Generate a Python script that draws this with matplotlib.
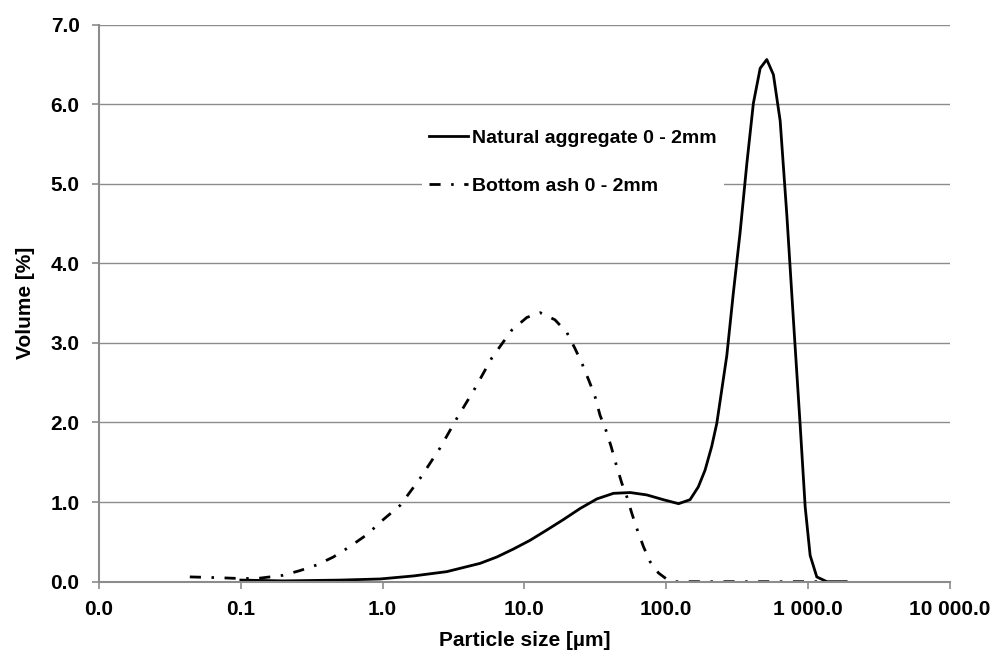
import matplotlib.pyplot as plt

plt.rcParams['font.family'] = ['Liberation Sans', 'DejaVu Sans']
plt.rcParams['font.weight'] = 'bold'

# natural aggregate 0 - 2mm (solid line)
nat_size = [0.1, 0.2, 0.5, 0.959, 1.646, 2.83, 4.86, 6.38, 8.35, 10.95, 14.4, 18.8,
            24.7, 32.4, 42.4, 55.6, 72.8, 95.4, 122, 147, 168, 187.5, 209, 227, 246,
            267, 297, 331, 370, 411, 459, 511, 569, 635, 708, 788, 879, 953, 1033,
            1151, 1355, 1854]
nat_vol = [0.02, 0.01, 0.02, 0.034, 0.072, 0.126, 0.23, 0.31, 0.41, 0.52, 0.65, 0.78,
           0.92, 1.04, 1.11, 1.12, 1.09, 1.03, 0.98, 1.03, 1.19, 1.40, 1.70, 1.99, 2.41,
           2.84, 3.63, 4.38, 5.26, 6.01, 6.45, 6.56, 6.37, 5.79, 4.60, 3.28, 1.96, 0.94,
           0.33, 0.06, 0.0, 0.0]

# bottom ash 0 - 2mm (dash-dot line)
ash_size = [0.0437, 0.07, 0.098, 0.13, 0.198, 0.262, 0.343, 0.449, 0.586, 0.773, 1.01,
            1.33, 1.84, 2.54, 3.33, 4.48, 5.88, 8.13, 10.4, 12.9, 16.4, 19.9, 22.7,
            25.6, 29.0, 31.5, 34.1, 37.4, 40.8, 44.0, 48.5, 52.6, 57.1, 61.9, 69.0,
            76.9, 88.0, 101, 112, 1250]
ash_vol = [0.06, 0.05, 0.04, 0.04, 0.08, 0.14, 0.21, 0.31, 0.44, 0.59, 0.78,
           0.96, 1.30, 1.68, 2.05, 2.43, 2.81, 3.16, 3.32, 3.38, 3.29, 3.13, 2.93,
           2.73, 2.49, 2.32, 2.09, 1.91, 1.70, 1.49, 1.24, 1.07, 0.86, 0.67, 0.44,
           0.25, 0.11, 0.03, 0.0, 0.0]

xticks = [0.01, 0.1, 1, 10, 100, 1000, 10000]
xtick_labels = ['0.0', '0.1', '1.0', '10.0', '100.0', '1 000.0', '10 000.0']
yticks = [0, 1, 2, 3, 4, 5, 6, 7]

fig = plt.figure(figsize=(9.94, 6.5), dpi=100)
ax = fig.add_axes([0.0996, 0.1051, 0.8561, 0.8572])

ax.plot(nat_size, nat_vol, color='black', lw=2, label='Natural aggregate 0 - 2mm')
ax.plot(ash_size, ash_vol, color='black', lw=2, linestyle=(0, (4, 3.8, 0.9, 3.8)),
        label='Bottom ash 0 - 2mm')

ax.set_xscale('log')
ax.set_xlim(0.01, 10000)
ax.set_ylim(0, 7)
ax.set_xticks(xticks)
ax.set_xticklabels(xtick_labels)
ax.minorticks_off()
ax.set_yticks(yticks)
ax.set_yticklabels(['%.1f' % v for v in yticks])

grid_col = '#8c8c8c'
ax.grid(axis='y', color=grid_col, lw=1)
ax.set_axisbelow(True)
for s in ['top', 'right']:
    ax.spines[s].set_visible(False)
for s in ['left', 'bottom']:
    ax.spines[s].set_color(grid_col)
    ax.spines[s].set_linewidth(1.5)
ax.tick_params(length=5, width=1.2, color=grid_col, labelsize=15)
ax.tick_params(axis='y', pad=9)
ax.tick_params(axis='x', pad=8)

ax.set_xlabel('Particle size [\u00b5m]', fontsize=15, fontweight='bold', labelpad=9)
ax.set_ylabel('Volume [%]', fontsize=15, fontweight='bold', labelpad=11)

leg = ax.legend(loc='center', bbox_to_anchor=(573 / 994, 1 - 162 / 650),
                bbox_transform=fig.transFigure, fontsize=14, frameon=True,
                facecolor='white', edgecolor='none', framealpha=1, fancybox=False,
                handlelength=2.0, handletextpad=0.2, labelspacing=1.55)

fig.savefig('out.png', dpi=100)
